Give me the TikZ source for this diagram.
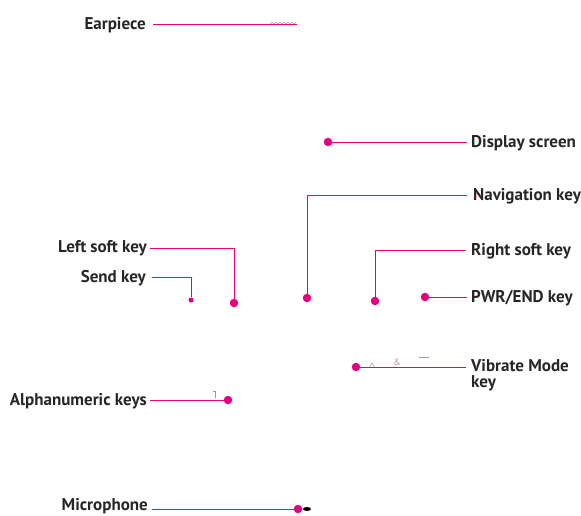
\documentclass[tikz,border=0pt]{standalone}
\usepackage{fontspec}
\usetikzlibrary{shapes.geometric}
\setmainfont{PT Sans}
\definecolor{pk}{HTML}{E6007E}
\definecolor{gr}{HTML}{9A9A9A}
\begin{document}
\begin{tikzpicture}[x=1pt,y=-1pt,
  lbl/.style={font=\bfseries\fontsize{17}{17}\selectfont, text=black!85, inner sep=0pt},
  ln/.style={draw=pk, line width=0.9pt},
  bigdot/.style={circle, fill=pk, inner sep=0pt, minimum size=8.5pt},
  smalldot/.style={circle, fill=pk, inner sep=0pt, minimum size=5pt}]
\useasboundingbox (0,0) rectangle (581,516);
% labels
\node[lbl, anchor=east] (ear) at (146,25) {Earpiece};
\node[lbl, anchor=west] (disp) at (471,143) {Display screen};
\node[lbl, anchor=west] (nav) at (473,196) {Navigation key};
\node[lbl, anchor=east] (lsk) at (147,248) {Left soft key};
\node[lbl, anchor=east] (send) at (146,278) {Send key};
\node[lbl, anchor=west] (rsk) at (471,251) {Right soft key};
\node[lbl, anchor=west] (pwr) at (471,298) {PWR/END key};
\node[lbl, anchor=west, align=left, font=\bfseries\fontsize{17}{16}\selectfont] (vib) at (471,375) {Vibrate Mode\\key};
\node[lbl, anchor=east] (alpha) at (147,401) {Alphanumeric keys};
\node[lbl, anchor=east] (mic) at (148,506) {Microphone};
% dots
\coordinate (earend) at (297,24);
\node[bigdot] (ddisp) at (328,142) {};
\node[bigdot] (dnav) at (307,298) {};
\node[bigdot] (dlsk) at (234,303) {};
\node[smalldot] (dsend) at (191,300) {};
\node[bigdot] (drsk) at (375,301) {};
\node[bigdot] (dpwr) at (425,297) {};
\node[bigdot] (dvib) at (356,367) {};
\node[bigdot] (dalpha) at (228,400) {};
\node[bigdot] (dmic) at (298,509) {};
% gray phone remnants
\draw[gr, line width=0.5pt] (270,24) -- (272,22) -- (274,24) -- (276,22) -- (278,24) -- (280,22) -- (282,24) -- (284,22) -- (286,24) -- (288,22) -- (290,24) -- (292,22) -- (294,24) -- (296,22);
\draw[gr, line width=0.5pt] (369,368) -- (372,363) -- (375,368);
\node[text=gr, font=\fontsize{9}{9}\selectfont, inner sep=0pt] (amp) at (397,362) {\&};
\draw[gr, line width=1pt] (419,357) -- (429,357);
\draw[gr, line width=0.5pt] (213,391) -- (215,391) -- (215,398);
\node[ellipse, fill=black, inner sep=0pt, minimum width=8pt, minimum height=4pt] (mice) at (307,509) {};
% connectors
\draw[ln] (153,24) -- (earend);
\draw[ln] (ddisp) -- (467,142);
\draw[ln] (467,195) -| (dnav);
\draw[ln] (150,248) -| (dlsk);
\draw[ln] (152,277) -| (dsend);
\draw[ln] (466,250) -| (drsk);
\draw[ln] (dpwr) -- (467,297);
\draw[ln] (dvib) -- (466,367);
\draw[ln] (150,400) -- (dalpha);
\draw[ln] (152,509) -- (dmic);
\end{tikzpicture}
\end{document}
